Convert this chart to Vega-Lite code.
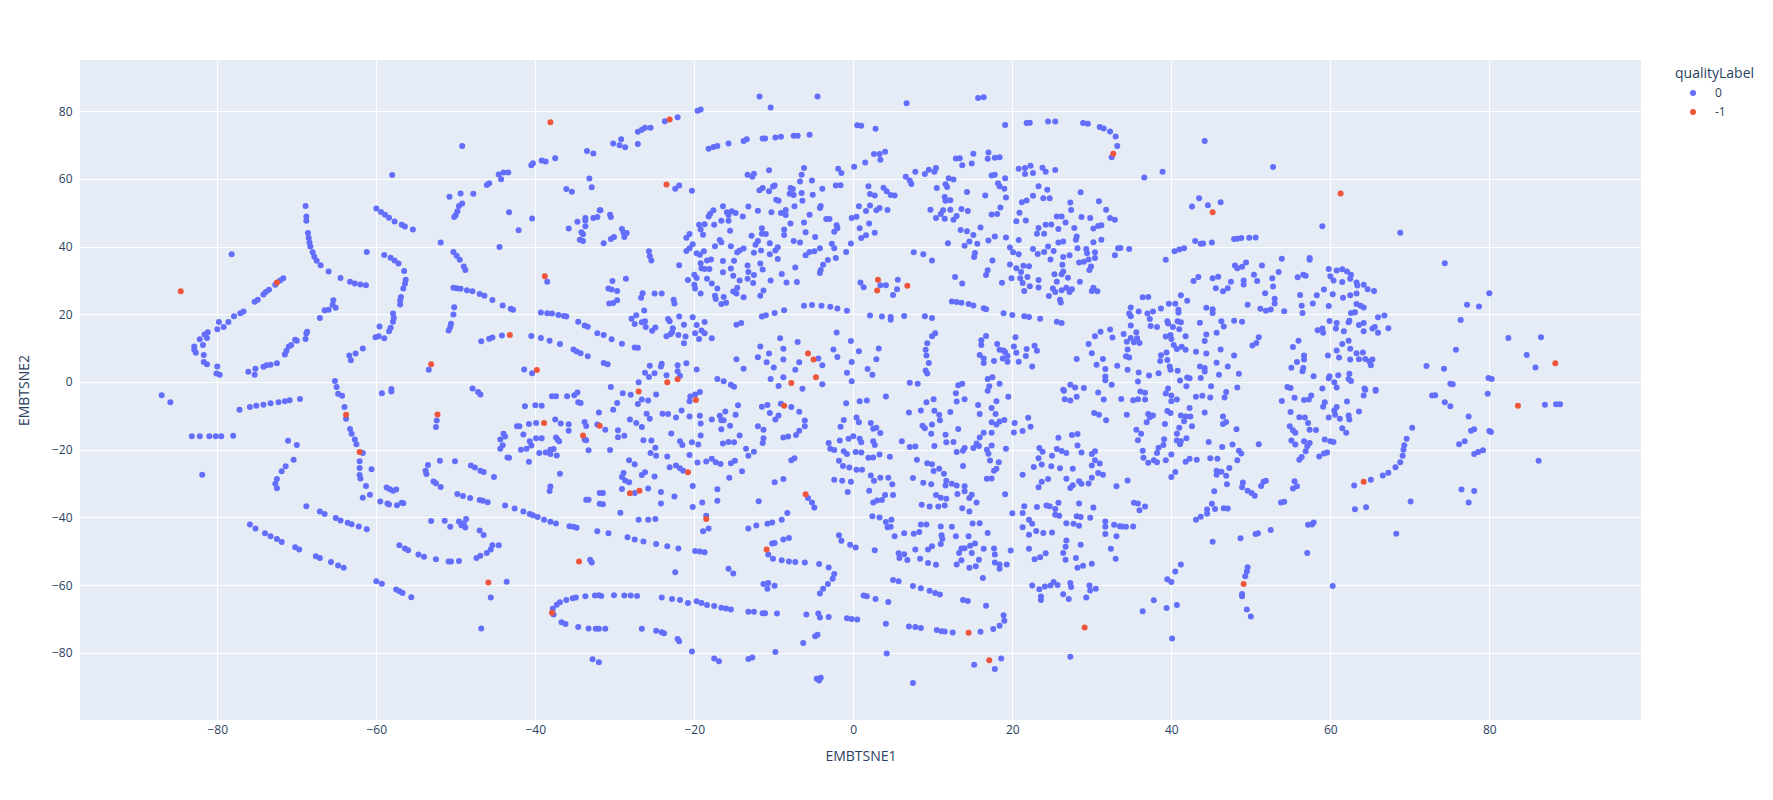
{"$schema":"https://vega.github.io/schema/vega-lite/v6.json","width":1561,"height":660,"autosize":{"type":"none"},"padding":{"left":80,"top":60,"right":132,"bottom":80},"background":"white","config":{"view":{"fill":"#E5ECF6","stroke":null},"font":"Open Sans","axis":{"grid":true,"gridColor":"white","gridWidth":1,"domain":false,"ticks":false,"labelFont":"Open Sans","labelFontSize":12,"labelColor":"#2a3f5f","titleFont":"Open Sans","titleFontSize":14,"titleColor":"#2a3f5f","titleFontWeight":"normal"}},"encoding":{"x":{"field":"x","type":"quantitative","title":"EMBTSNE1","scale":{"domain":[-97.27,99.08],"nice":false,"zero":false},"axis":{"values":[-80,-60,-40,-20,0,20,40,60,80],"labelExpr":"replace(datum.label,'-','−')","labelPadding":4,"titlePadding":14}},"y":{"field":"y","type":"quantitative","title":"EMBTSNE2","scale":{"domain":[-99.85,95.1],"nice":false,"zero":false},"axis":{"values":[-80,-60,-40,-20,0,20,40,60,80],"labelExpr":"replace(datum.label,'-','−')","labelPadding":8,"titlePadding":20}}},"layer":[{"mark":{"type":"rule","color":"white","strokeWidth":2},"encoding":{"x":{"datum":0},"y":{"value":0},"y2":{"value":660}}},{"mark":{"type":"rule","color":"white","strokeWidth":2},"encoding":{"y":{"datum":0},"x":{"value":0},"x2":{"value":1561}}},{"data":{"values":[
{"x":-78.2,"y":37.7},{"x":-71.7,"y":30.6},{"x":-72.1,"y":30},{"x":-72.7,"y":28.7},{"x":-73.5,"y":27.2},{"x":-73.9,"y":26.6},{"x":-74.2,"y":25.8},{"x":-74.9,"y":24.3},{"x":-75.3,"y":23.7},{"x":-76.7,"y":20.8},{"x":-77.1,"y":20.3},{"x":-77.9,"y":19.4},{"x":-78.6,"y":17.7},{"x":-79.2,"y":16.2},{"x":-79.8,"y":17.7},{"x":-80,"y":15.6},{"x":-81.2,"y":14.7},{"x":-81.6,"y":14},{"x":-81.3,"y":13},{"x":-82.2,"y":12.6},{"x":-81.8,"y":10.9},{"x":-82.9,"y":10.5},{"x":-82.9,"y":9.5},{"x":-82.7,"y":8.6},{"x":-81.7,"y":8},{"x":-81.7,"y":5.9},{"x":-81.3,"y":5.2},{"x":-80,"y":4.6},{"x":-80.1,"y":2.5},{"x":-79.7,"y":2.1},
{"x":-76.1,"y":3},{"x":-75.2,"y":3.9},{"x":-75.3,"y":2.1},{"x":-74.2,"y":4.5},{"x":-73.8,"y":4.9},{"x":-73.3,"y":5.1},{"x":-72.5,"y":5.5},{"x":-71.5,"y":8.1},{"x":-71.3,"y":9.2},{"x":-71,"y":10.5},{"x":-70.7,"y":10.9},{"x":-70.2,"y":12.5},{"x":-70,"y":12.2},{"x":-68.9,"y":12.7},{"x":-68.8,"y":14.3},{"x":-68.7,"y":14.8},{"x":-67.1,"y":18.9},{"x":-66.5,"y":21.2},{"x":-66,"y":21.3},{"x":-65.5,"y":22.8},{"x":-65.4,"y":24.1},{"x":-65.1,"y":21.9},
{"x":-68.9,"y":52},{"x":-68.8,"y":48.9},{"x":-68.8,"y":47.6},{"x":-68.6,"y":44},{"x":-68.5,"y":42.5},{"x":-68.4,"y":41.2},{"x":-68.3,"y":40},{"x":-68,"y":38.3},{"x":-67.8,"y":37},{"x":-67.5,"y":35.8},{"x":-67,"y":34.5},{"x":-66,"y":32.6},{"x":-64.5,"y":30.7},{"x":-63.3,"y":29.6},{"x":-62.7,"y":29.1},{"x":-62,"y":28.8},{"x":-61.3,"y":28.6},
{"x":-65.2,"y":0.3},{"x":-65,"y":-1.5},{"x":-63.4,"y":7.8},{"x":-63.2,"y":6.4},{"x":-62.6,"y":8.4},{"x":-61.7,"y":9.9},{"x":-60.1,"y":13.2},{"x":-59.7,"y":13.5},{"x":-59,"y":12.9},{"x":-58.4,"y":15},{"x":-58.2,"y":16},{"x":-59.6,"y":16.4},{"x":-57.9,"y":17.8},{"x":-57.8,"y":18.9},{"x":-57.9,"y":20.2},{"x":-57,"y":22.9},{"x":-57,"y":24.1},{"x":-56.9,"y":25.1},{"x":-56.6,"y":27.6},{"x":-56.4,"y":29},{"x":-56.3,"y":30.2},{"x":-56.5,"y":32.8},{"x":-57.2,"y":35},{"x":-57.7,"y":35.9},{"x":-58.2,"y":36.7},{"x":-59,"y":37.5},{"x":-61.2,"y":38.4},
{"x":-60,"y":51.2},{"x":-59.4,"y":50.2},{"x":-58.9,"y":49.4},{"x":-58.4,"y":48.5},{"x":-57.7,"y":47.4},{"x":-56.8,"y":46.4},{"x":-56.4,"y":45.9},{"x":-55.4,"y":45},{"x":-58,"y":61.1},{"x":-51.9,"y":41.2},
{"x":-49.2,"y":69.7},{"x":-50.8,"y":54.7},{"x":-49.4,"y":55.7},{"x":-47.8,"y":55.6},{"x":-49.2,"y":52.7},{"x":-49.6,"y":52},{"x":-49.8,"y":50.4},{"x":-50,"y":49.3},{"x":-50.2,"y":48.7},
{"x":-46.1,"y":58.2},{"x":-45.8,"y":58.7},{"x":-44.6,"y":61.3},{"x":-44,"y":61.9},{"x":-43.4,"y":61.9},{"x":-44.3,"y":59.9},{"x":-40.5,"y":64},{"x":-40.3,"y":64.6},{"x":-39.2,"y":65.4},{"x":-38.7,"y":65.1},{"x":-37.5,"y":66.1},{"x":-43.3,"y":50.1},{"x":-40.4,"y":48.3},{"x":-42.1,"y":44.8},{"x":-44.5,"y":39.9},
{"x":-50.3,"y":38.4},{"x":-49.9,"y":37.3},{"x":-49.5,"y":36.1},{"x":-49,"y":34.1},{"x":-48.8,"y":33.1},{"x":-50.3,"y":27.8},{"x":-49.9,"y":27.7},{"x":-49.4,"y":27.5},{"x":-48.6,"y":27.1},{"x":-47.9,"y":26.8},{"x":-47,"y":26},{"x":-46.4,"y":25.5},{"x":-45.4,"y":24.2},{"x":-44.1,"y":22.6},{"x":-43.1,"y":21.6},{"x":-42.8,"y":21.3},{"x":-39.3,"y":20.5},{"x":-38.5,"y":20.3},{"x":-37.9,"y":20.2},{"x":-37.1,"y":19.8},{"x":-36.4,"y":19.5},{"x":-36.1,"y":19.3},{"x":-34.6,"y":17.8},{"x":-33.8,"y":16.7},{"x":-33.4,"y":16.3},{"x":-32.2,"y":14.4},
{"x":-50.2,"y":22.1},{"x":-50.3,"y":19.9},{"x":-50.6,"y":17.2},{"x":-50.7,"y":16.2},{"x":-50.9,"y":15.2},{"x":-46.8,"y":12},{"x":-45.8,"y":12.8},{"x":-45.4,"y":13.1},{"x":-44.2,"y":13.7},{"x":-40.5,"y":13.6},{"x":-39.3,"y":13},{"x":-38.2,"y":12.2},{"x":-36.9,"y":11.2},{"x":-35.2,"y":9.6},{"x":-34.8,"y":9},{"x":-34.3,"y":8.5},{"x":-33.4,"y":7.6},{"x":-41.4,"y":3.7},{"x":-40.4,"y":2.6},{"x":-53.4,"y":3.6},{"x":-47.9,"y":-1.9},{"x":-58.1,"y":-2.1},
{"x":-38.5,"y":29.6},{"x":-33.5,"y":68.2},{"x":-32.7,"y":67.5},{"x":-33.2,"y":60.1},{"x":-32.9,"y":57.5},{"x":-36.1,"y":57},{"x":-35.4,"y":56.2},{"x":-34.7,"y":47.3},{"x":-35.8,"y":45.3},{"x":-33.7,"y":48.4},{"x":-33.7,"y":47.7},{"x":-33.7,"y":46},{"x":-32.7,"y":48.4},{"x":-32.2,"y":48.7},{"x":-31.9,"y":50.7},{"x":-34.2,"y":44.2},{"x":-34,"y":43.6},{"x":-34.4,"y":42},{"x":-34,"y":41.6},
{"x":-87,"y":-3.9},{"x":-85.9,"y":-6},{"x":-77.2,"y":-8.2},{"x":-75.9,"y":-7.4},{"x":-75.1,"y":-7},{"x":-74.2,"y":-6.7},{"x":-73.3,"y":-6.3},{"x":-72.3,"y":-6},{"x":-71.5,"y":-5.7},{"x":-70.9,"y":-5.4},{"x":-69.6,"y":-5},
{"x":-83.2,"y":-16},{"x":-82.2,"y":-16},{"x":-81,"y":-16},{"x":-80.2,"y":-16},{"x":-79.5,"y":-16},{"x":-78,"y":-15.9},{"x":-81.9,"y":-27.4},
{"x":-64.8,"y":-3.5},{"x":-64.3,"y":-4.1},{"x":-64,"y":-7.4},{"x":-63.8,"y":-10.9},{"x":-63.3,"y":-13.9},{"x":-63.1,"y":-15.3},{"x":-62.7,"y":-17},{"x":-62.5,"y":-18.4},{"x":-61.7,"y":-21},{"x":-62.1,"y":-23.4},{"x":-62.1,"y":-25.4},{"x":-62.1,"y":-27.5},{"x":-62,"y":-28.5},{"x":-60.6,"y":-25.8},{"x":-61.3,"y":-30.7},{"x":-60.8,"y":-33.3},{"x":-61.7,"y":-34.2},
{"x":-59.3,"y":-3.3},{"x":-58.1,"y":-2.8},{"x":-47.2,"y":-3},{"x":-46.9,"y":-3.7},
{"x":-71.1,"y":-17.4},{"x":-70,"y":-18.6},{"x":-70.4,"y":-23},{"x":-71.4,"y":-24.9},{"x":-71.9,"y":-26.4},{"x":-72.5,"y":-28.7},{"x":-72.7,"y":-30.1},{"x":-72.5,"y":-31.4},
{"x":-68.8,"y":-36.7},{"x":-67.1,"y":-38.3},{"x":-66.5,"y":-39},{"x":-65.1,"y":-40.2},{"x":-64.5,"y":-40.9},{"x":-63.6,"y":-41.6},{"x":-63.1,"y":-42},{"x":-62.2,"y":-42.7},{"x":-61.2,"y":-43.5},
{"x":-75.9,"y":-42.1},{"x":-75.2,"y":-43.3},{"x":-74,"y":-44.7},{"x":-73.3,"y":-45.6},{"x":-72.5,"y":-46.4},{"x":-71.9,"y":-47.3},{"x":-70.2,"y":-48.8},{"x":-69.7,"y":-49.5},{"x":-67.6,"y":-51.5},{"x":-67.1,"y":-52},{"x":-65.7,"y":-53.2},{"x":-64.8,"y":-54.2},{"x":-64.1,"y":-54.9},
{"x":-60,"y":-58.9},{"x":-59.3,"y":-59.6},{"x":-57.5,"y":-61.3},{"x":-57.1,"y":-61.8},{"x":-56.7,"y":-62.3},{"x":-55.6,"y":-63.6},{"x":-45.6,"y":-63.7},{"x":-43.6,"y":-59},{"x":-46.8,"y":-72.8},
{"x":-58.7,"y":-31.2},{"x":-58.3,"y":-31.7},{"x":-57.9,"y":-32.1},{"x":-57.5,"y":-31.8},{"x":-59.5,"y":-35.3},{"x":-58.6,"y":-35.9},{"x":-58.4,"y":-36.2},{"x":-57.4,"y":-36.4},{"x":-56.8,"y":-35.7},{"x":-56.6,"y":-35.8},
{"x":-53.5,"y":-24.5},{"x":-53.8,"y":-26.2},{"x":-53.7,"y":-27.2},{"x":-52.8,"y":-29.4},{"x":-52.5,"y":-29.9},{"x":-51.9,"y":-31},{"x":-52,"y":-23.3},{"x":-50.1,"y":-23.4},{"x":-48.1,"y":-24.7},{"x":-47.6,"y":-25.3},{"x":-46.9,"y":-26.2},{"x":-46.5,"y":-26.6},{"x":-45.2,"y":-28.1},
{"x":-49.8,"y":-33.1},{"x":-49.1,"y":-33.7},{"x":-48.2,"y":-34.3},{"x":-47,"y":-34.9},{"x":-46.6,"y":-35.1},{"x":-46,"y":-35.5},{"x":-43.8,"y":-36.5},{"x":-42.6,"y":-37.4},{"x":-41.5,"y":-38.3},{"x":-40.7,"y":-39},{"x":-40.3,"y":-39.4},{"x":-39.7,"y":-39.9},{"x":-38.9,"y":-40.7},{"x":-38.1,"y":-41.3},{"x":-37.4,"y":-41.8},{"x":-35.7,"y":-42.6},{"x":-35.2,"y":-42.8},{"x":-34.8,"y":-43.1},{"x":-32.2,"y":-44.1},
{"x":-52.4,"y":-11.4},{"x":-52.5,"y":-13.3},
{"x":-53.1,"y":-41.1},{"x":-51.4,"y":-41},{"x":-50.7,"y":-42.8},{"x":-49.6,"y":-41.2},{"x":-48.7,"y":-40.5},{"x":-49,"y":-41.7},{"x":-49.3,"y":-42.3},{"x":-48.8,"y":-43},{"x":-47,"y":-43.9},{"x":-46.5,"y":-45.2},
{"x":-45.4,"y":-48.2},{"x":-44.6,"y":-48.2},{"x":-45.6,"y":-49.5},{"x":-46.1,"y":-50.5},{"x":-46.9,"y":-51.3},{"x":-47.4,"y":-52},{"x":-49.6,"y":-52.9},{"x":-50.6,"y":-53},{"x":-50.9,"y":-53},{"x":-52.5,"y":-52.4},{"x":-54,"y":-51.6},{"x":-54.7,"y":-51},{"x":-56,"y":-49.7},{"x":-56.4,"y":-49.2},{"x":-57.1,"y":-48.2},
{"x":-37.7,"y":-68.7},{"x":-37.8,"y":-67},{"x":-37.3,"y":-65.8},{"x":-36.9,"y":-65.1},{"x":-36.1,"y":-64.4},{"x":-35.3,"y":-63.9},{"x":-34.9,"y":-63.7},{"x":-33.7,"y":-63.3},{"x":-32.5,"y":-63.1},{"x":-32,"y":-63},{"x":-36.7,"y":-71},{"x":-36.2,"y":-71.5},{"x":-34.6,"y":-72.4},{"x":-33.3,"y":-72.8},{"x":-32.4,"y":-72.9},{"x":-32,"y":-72.9},{"x":-32.8,"y":-81.9},{"x":-32,"y":-82.8},
{"x":-37.9,"y":-4.2},{"x":-37.4,"y":-4.2},{"x":-36,"y":-4.2},{"x":-35.1,"y":-3.9},{"x":-34.7,"y":-3.1},{"x":-34.6,"y":-6},{"x":-34.3,"y":-6.2},{"x":-41.3,"y":-7.2},{"x":-40,"y":-6.9},{"x":-39.2,"y":-7},{"x":-37.5,"y":-11.1},{"x":-36.8,"y":-12.3},{"x":-35.8,"y":-12.5},{"x":-35.8,"y":-14.4},{"x":-33.8,"y":-11.8},{"x":-33.6,"y":-13},{"x":-32.2,"y":-12.6},{"x":-32,"y":-9},{"x":-40.8,"y":-12.4},{"x":-39.9,"y":-12.1},{"x":-42.3,"y":-13.1},{"x":-42,"y":-13.1},{"x":-44,"y":-15.3},{"x":-43.8,"y":-16.1},{"x":-44.4,"y":-17},{"x":-41.5,"y":-15.5},{"x":-39.9,"y":-16.6},{"x":-39.2,"y":-16.6},{"x":-37.4,"y":-16.4},{"x":-37.2,"y":-17},{"x":-37,"y":-17.5},{"x":-40.7,"y":-17.5},{"x":-40.5,"y":-18.8},{"x":-41.1,"y":-19.7},{"x":-41.8,"y":-20},{"x":-44.1,"y":-18.7},{"x":-44.4,"y":-19.7},{"x":-43.5,"y":-22.3},{"x":-43.3,"y":-22.4},{"x":-40.8,"y":-23.6},{"x":-39.5,"y":-21},{"x":-38.7,"y":-20.8},{"x":-38.1,"y":-20},{"x":-37.7,"y":-19.8},{"x":-38.1,"y":-21.3},{"x":-37.3,"y":-21.7},{"x":-33.8,"y":-17},{"x":-33.6,"y":-17.2},{"x":-33.3,"y":-20.2},{"x":-36.9,"y":-27.1},{"x":-38.1,"y":-30.9},{"x":-38.2,"y":-32.2},{"x":-33.6,"y":-34.8},{"x":-33.3,"y":-34.8},{"x":-31.9,"y":-32.8},{"x":-31.9,"y":-36},{"x":-33.1,"y":-52.5},{"x":-32.9,"y":-53.3},
{"x":-23.7,"y":77},{"x":-22.1,"y":78.2},{"x":-19.6,"y":80.1},{"x":-19.2,"y":80.5},{"x":-11.8,"y":84.3},{"x":-10.4,"y":81.1},{"x":-4.5,"y":84.3},{"x":6.7,"y":82.3},{"x":15.7,"y":83.9},{"x":16.4,"y":84.1},
{"x":-25.5,"y":75.1},{"x":-26.2,"y":75.1},{"x":-26.6,"y":74.5},{"x":-27.1,"y":73.9},{"x":-29.2,"y":71.7},{"x":-30.2,"y":70.4},{"x":-29.4,"y":69.9},{"x":-28.7,"y":69.3},{"x":-27.1,"y":70.3},
{"x":-18.2,"y":68.9},{"x":-17.6,"y":69.4},{"x":-17.1,"y":69.7},{"x":-15.7,"y":70.4},{"x":-13.8,"y":71.2},{"x":-13.4,"y":71.7},{"x":-11.4,"y":71.9},{"x":-11.1,"y":71.9},{"x":-9.8,"y":72.2},{"x":-9.1,"y":72.4},{"x":-7.5,"y":72.7},{"x":-7,"y":72.7},{"x":-5.5,"y":73},
{"x":0.5,"y":75.8},{"x":1,"y":75.7},{"x":2.8,"y":74.8},{"x":0.1,"y":63.6},{"x":1.5,"y":64.8},{"x":2.6,"y":67.3},{"x":3.3,"y":67.3},{"x":4,"y":68},{"x":3.4,"y":65.6},
{"x":19.1,"y":75.9},{"x":21.8,"y":76.5},{"x":22.2,"y":76.6},{"x":24.5,"y":76.9},{"x":25.4,"y":76.9},{"x":28.9,"y":76.5},{"x":29.5,"y":76.3},{"x":31,"y":75.3},{"x":31.5,"y":74.9},{"x":32.3,"y":74},{"x":33,"y":72.5},{"x":33.2,"y":69.7},{"x":32.5,"y":66.4},
{"x":-1.9,"y":63},{"x":-1.5,"y":61.7},{"x":-6.2,"y":63.2},{"x":-6.5,"y":61.2},{"x":-6.7,"y":59.2},{"x":-5.2,"y":59.5},{"x":-3.9,"y":57.1},{"x":-2.2,"y":58},{"x":-1.6,"y":58.1},{"x":-5.1,"y":55.3},{"x":-6.4,"y":53.5},{"x":-6.5,"y":55.8},{"x":-7.9,"y":57.3},{"x":-7.6,"y":57},{"x":-8,"y":55.6},{"x":-7.5,"y":55.2},{"x":-9.9,"y":58},{"x":-10.1,"y":57.7},{"x":-10.6,"y":56.3},{"x":-11.4,"y":57.3},{"x":-11.8,"y":56.6},{"x":-10.6,"y":62.5},{"x":-13.3,"y":61.2},{"x":-12.5,"y":61.5},{"x":-12.7,"y":60.6},{"x":-22.4,"y":57.1},{"x":-21.9,"y":58},{"x":-20.3,"y":56.5},
{"x":-9.7,"y":53.8},{"x":-9.4,"y":53.5},{"x":-13.2,"y":51.8},{"x":-12,"y":50.6},{"x":-10.3,"y":50.1},{"x":-9.1,"y":49.9},{"x":-8.5,"y":50.8},{"x":-8.5,"y":49.3},{"x":-7.4,"y":51.9},{"x":-5.5,"y":49.4},{"x":-4.1,"y":52},{"x":-4.2,"y":51.4},{"x":-6.2,"y":47.1},{"x":-7.9,"y":46.8},{"x":-3.4,"y":48.1},{"x":-3,"y":48.1},{"x":-2.1,"y":46.3},{"x":-2,"y":45.4},{"x":-2.4,"y":44.4},{"x":-6,"y":44.2},{"x":-4.8,"y":42.8},{"x":-8.7,"y":45},{"x":-8.7,"y":43.4},{"x":-11.5,"y":45.4},{"x":-11.5,"y":43.8},{"x":-11,"y":43.7},{"x":-12.8,"y":43.2},{"x":-15.5,"y":44.7},{"x":-17.5,"y":46.4},{"x":-16.6,"y":47.6},{"x":-15.7,"y":47.6},{"x":-16.4,"y":51.9},{"x":-17.6,"y":50.7},{"x":-18.2,"y":48.9},{"x":-18,"y":49.7},{"x":-15.9,"y":50.1},{"x":-15.3,"y":50.4},{"x":-14.8,"y":49.9},{"x":-15.7,"y":49.3},{"x":-13.9,"y":48.9},{"x":-19.4,"y":46.4},{"x":-18.7,"y":46.6},{"x":-19.2,"y":45},{"x":-18.9,"y":43.5},{"x":-20.6,"y":43.7},{"x":-21,"y":42.6},
{"x":-0.2,"y":48.4},{"x":0.4,"y":48.8},{"x":0.7,"y":51.9},{"x":1.6,"y":50.5},{"x":2.1,"y":52.1},{"x":3.3,"y":51.4},{"x":2.9,"y":50.7},{"x":4.3,"y":50.8},{"x":2,"y":46.8},{"x":0.8,"y":45.4},{"x":2.7,"y":44.1},{"x":1.6,"y":43.3},{"x":1,"y":42.5},{"x":-0.3,"y":40.9},{"x":1.9,"y":57.8},{"x":2.1,"y":55.5},{"x":2.7,"y":55.1},{"x":3.8,"y":57.4},{"x":4.2,"y":56.3},{"x":4.7,"y":55.2},{"x":5.2,"y":55.1},
{"x":-7.5,"y":41.6},{"x":-6.7,"y":41.2},{"x":-2.7,"y":40.8},{"x":-2.4,"y":39.5},{"x":-4.2,"y":39.5},{"x":-4.9,"y":38.6},{"x":-5.5,"y":38.4},{"x":-6,"y":37.4},{"x":-0.9,"y":38.4},{"x":-2.2,"y":36.6},{"x":-3.2,"y":36},{"x":-3.8,"y":34.6},{"x":-4.1,"y":33.1},{"x":-4.2,"y":32.2},{"x":-7.3,"y":33.8},{"x":-9,"y":31.9},{"x":-8.4,"y":29.4},{"x":-7.1,"y":29.5},{"x":-10.4,"y":30},
{"x":-9.5,"y":39.8},{"x":-9.8,"y":38.8},{"x":-10.5,"y":41},{"x":-10.5,"y":37.7},{"x":-9.5,"y":36.3},{"x":-11.6,"y":38.8},{"x":-12.5,"y":38.2},{"x":-12,"y":41.6},{"x":-12.3,"y":40.5},{"x":-13.8,"y":39.4},{"x":-14.3,"y":38.8},{"x":-14.6,"y":38.3},{"x":-15.4,"y":40.1},{"x":-16.8,"y":41.9},{"x":-16.6,"y":41.3},{"x":-17.4,"y":40.1},{"x":-20.2,"y":40.7},{"x":-20.6,"y":39.5},{"x":-21,"y":38.7},{"x":-19.7,"y":38},{"x":-19.3,"y":37.6},{"x":-18.8,"y":38.6},{"x":-17.9,"y":36.2},{"x":-18.4,"y":35.9},{"x":-16.4,"y":35.7},{"x":-15,"y":35.8},{"x":-19.2,"y":35.1},{"x":-19.1,"y":33.6},{"x":-18.7,"y":33.4},{"x":-18.1,"y":33.4},{"x":-21.9,"y":34.5},
{"x":-13.3,"y":34.4},{"x":-13.2,"y":32.5},{"x":-11.7,"y":35},{"x":-11.4,"y":33.2},{"x":-15.4,"y":33.5},{"x":-16.4,"y":32.4},{"x":-15.1,"y":31.4},{"x":-14.3,"y":30},{"x":-12.5,"y":31.6},{"x":-13.3,"y":30.5},{"x":-12.6,"y":29.2},{"x":-18.4,"y":30.5},{"x":-17.8,"y":29.1},{"x":-17.1,"y":27.6},{"x":-20,"y":31.7},{"x":-19.7,"y":30.7},{"x":-20.8,"y":30.1},{"x":-20,"y":28.7},{"x":-19.9,"y":27.6},{"x":-19.2,"y":26.1},{"x":-14.6,"y":27.8},{"x":-15.1,"y":26.7},{"x":-14.7,"y":26.1},{"x":-13.8,"y":25},{"x":-11.3,"y":27},{"x":-11.7,"y":25.5},{"x":-17.4,"y":25.5},{"x":-17.3,"y":24.5},{"x":-16.3,"y":25.1},{"x":-16,"y":23.4},{"x":-16.6,"y":23},
{"x":-25.7,"y":38.6},{"x":-25.6,"y":37.1},{"x":-25.4,"y":35.9},{"x":-30.3,"y":29.8},{"x":-28.6,"y":30.5},{"x":-30.8,"y":27.6},{"x":-30.4,"y":27.3},{"x":-29.7,"y":26.9},{"x":-26.5,"y":26.2},{"x":-26.7,"y":24.9},{"x":-25,"y":26.1},{"x":-24.1,"y":26.1},{"x":-22.6,"y":24.3},{"x":-22.5,"y":23.2},{"x":-30.7,"y":23.2},{"x":-30.2,"y":23.3},{"x":-29.7,"y":24.1},{"x":-26.3,"y":21.1},
{"x":-29.1,"y":45.2},{"x":-28.9,"y":44.1},{"x":-28.5,"y":44},{"x":-28.8,"y":42.8},{"x":-30.1,"y":42.8},{"x":-30.5,"y":42.2},{"x":-31.4,"y":41},{"x":-30.6,"y":49.4},{"x":-30.5,"y":48.7},{"x":-31.8,"y":50.7},
{"x":-6.2,"y":22.5},{"x":-5.2,"y":22.7},{"x":-4,"y":22.5},{"x":-2.9,"y":22.2},{"x":-2,"y":21.7},{"x":-0.8,"y":21},{"x":-8.7,"y":21.2},{"x":-9.9,"y":20.4},{"x":-11,"y":19.7},{"x":-11.5,"y":19.3},{"x":-14.1,"y":17.4},{"x":-14.7,"y":16.9},
{"x":2.1,"y":19.6},{"x":3.6,"y":19.3},{"x":4.7,"y":19.2},{"x":4.7,"y":18.4},{"x":6.4,"y":19.5},{"x":9,"y":19.4},{"x":9.9,"y":18.9},
{"x":12.4,"y":23.8},{"x":13,"y":23.6},{"x":13.6,"y":23.4},{"x":14.5,"y":23},{"x":15.1,"y":22.6},{"x":16.4,"y":21.8},{"x":16.7,"y":21.5},{"x":18.9,"y":20.3},{"x":20,"y":19.8},{"x":21.5,"y":19.4},{"x":22.1,"y":19.2},{"x":23.5,"y":18.7},{"x":25.6,"y":17.8},{"x":26.2,"y":17.4},
{"x":7.6,"y":38.3},{"x":8.8,"y":37.7},{"x":9.9,"y":35.9},{"x":11.9,"y":41},{"x":12.8,"y":31},{"x":13.7,"y":29.1},{"x":0.9,"y":29.4},{"x":1.3,"y":28},{"x":3.4,"y":28.6},{"x":4.1,"y":28.6},{"x":5.6,"y":30.2},{"x":5.5,"y":27.4},{"x":5,"y":25.7},
{"x":6.6,"y":60.6},{"x":7.1,"y":59.5},{"x":7.3,"y":58.5},{"x":7.8,"y":62.1},{"x":9,"y":61.4},{"x":9.5,"y":62.7},{"x":10.2,"y":62.1},{"x":10.4,"y":63.2},{"x":12.9,"y":66},{"x":13.4,"y":66.1},{"x":13.7,"y":64},{"x":14.9,"y":64.5},{"x":15.1,"y":67.4},{"x":17,"y":67.8},{"x":16.9,"y":65.9},{"x":17.8,"y":66.2},{"x":18.4,"y":66.4},{"x":12,"y":60.2},{"x":12.6,"y":59.8},{"x":11.6,"y":58.4},{"x":11.8,"y":57.6},{"x":10.5,"y":57.3},{"x":14.3,"y":56.1},{"x":11.5,"y":54.6},{"x":11.6,"y":53.5},{"x":12.2,"y":53.7},{"x":16.6,"y":55.1},{"x":19.2,"y":54.5},{"x":17.4,"y":61},{"x":17.8,"y":61.2},{"x":19.1,"y":60.2},{"x":18.2,"y":58.7},{"x":18.4,"y":57.8},{"x":19,"y":57.1},
{"x":9.7,"y":50.9},{"x":11.3,"y":50.7},{"x":12.2,"y":50.9},{"x":13.6,"y":51.1},{"x":14.4,"y":50.5},{"x":11,"y":49.6},{"x":10.4,"y":48.4},{"x":11.5,"y":48.2},{"x":12.6,"y":47.9},{"x":13,"y":49},{"x":17.4,"y":49.5},{"x":18.1,"y":49.6},{"x":18.5,"y":51.5},{"x":16,"y":45.6},{"x":13.5,"y":44.9},{"x":14.3,"y":44.5},{"x":15.1,"y":43.4},{"x":17.8,"y":43},{"x":19.2,"y":42.7},{"x":17,"y":41.8},{"x":15.6,"y":40.8},{"x":14.6,"y":41.5},{"x":14,"y":40.2},{"x":15.3,"y":38.1},{"x":15.2,"y":36.9},{"x":17.5,"y":35.9},{"x":16.9,"y":33},{"x":16.7,"y":31.6},{"x":18.7,"y":29.3},{"x":19.7,"y":39.7},{"x":20.1,"y":38.3},{"x":20.8,"y":37.7},{"x":19.7,"y":34.7},{"x":20.5,"y":33.6},{"x":21.1,"y":32.5},{"x":21.4,"y":34.3},{"x":22.1,"y":34.2},{"x":21.9,"y":31},{"x":19.9,"y":30.6},{"x":21,"y":30.6},{"x":21.3,"y":29.2},{"x":22.2,"y":28.3},{"x":21.5,"y":26.9},{"x":23.3,"y":30.1},{"x":23.3,"y":27.9},{"x":20.8,"y":41.9},{"x":20.5,"y":47.5},{"x":21.7,"y":47.7},{"x":20.9,"y":50},
{"x":20.8,"y":63},{"x":21.6,"y":63.2},{"x":22.3,"y":63.9},{"x":21.6,"y":61.4},{"x":22.6,"y":61.7},{"x":23.8,"y":63.3},{"x":24.2,"y":62.1},{"x":25.4,"y":62.6},{"x":23.3,"y":57.8},{"x":24.4,"y":56.8},{"x":22.6,"y":55},{"x":23.9,"y":54.3},{"x":24.7,"y":54.3},{"x":21.2,"y":53.1},{"x":21.8,"y":53.6},{"x":27.3,"y":53},{"x":28.6,"y":56},{"x":30.9,"y":53.4},{"x":27.4,"y":50.8},{"x":31.8,"y":50.9},{"x":28.7,"y":48.7},{"x":29.8,"y":48.4},{"x":25.6,"y":48.9},{"x":26.2,"y":48.9},{"x":26.7,"y":47.1},{"x":24.2,"y":46.4},{"x":24.9,"y":46.5},{"x":23.3,"y":45.5},{"x":23.1,"y":43.8},{"x":24,"y":43.8},{"x":25.8,"y":45.2},{"x":27.8,"y":45.5},{"x":28.1,"y":43},{"x":28,"y":42},{"x":30.2,"y":45.3},{"x":30.8,"y":46.1},{"x":31.2,"y":46.3},{"x":32.3,"y":48.4},{"x":32.9,"y":47.9},{"x":31.2,"y":42},{"x":30.2,"y":41.3},{"x":25.8,"y":41.2},{"x":26.4,"y":41.5},{"x":24.5,"y":40},{"x":22.6,"y":39.3},{"x":23.2,"y":37.8},{"x":24,"y":38.4},{"x":25.2,"y":38.7},{"x":24.8,"y":36.2},{"x":26.4,"y":36.9},{"x":27.2,"y":37.4},{"x":28.2,"y":39.5},{"x":29.3,"y":39.3},{"x":29.4,"y":38},{"x":30.4,"y":38.3},{"x":30.4,"y":36.6},{"x":29.6,"y":36.2},{"x":28.4,"y":35.3},{"x":29,"y":35.5},{"x":33.3,"y":39.5},{"x":32.9,"y":37.4},{"x":26.3,"y":34.6},{"x":26.4,"y":32.6},{"x":25.3,"y":31.8},{"x":26.2,"y":31.8},{"x":27,"y":30.8},{"x":25.6,"y":29.6},{"x":29.9,"y":34.1},{"x":29.7,"y":33.1},{"x":28.5,"y":29.6},{"x":25.1,"y":27.6},{"x":25.4,"y":26.6},{"x":26.2,"y":27.1},{"x":26.8,"y":27.8},{"x":27.2,"y":26.6},{"x":27.5,"y":27.4},{"x":30.2,"y":27.8},{"x":30,"y":26.9},{"x":30.7,"y":26.8},{"x":24.6,"y":25.4},{"x":26,"y":24.3},{"x":26.1,"y":23.5},
{"x":-27.9,"y":18.7},{"x":-27.3,"y":19.7},{"x":-27.5,"y":17.1},{"x":-26.6,"y":17.6},{"x":-26.2,"y":17.9},{"x":-26.1,"y":16.2},{"x":-25.3,"y":15.1},{"x":-24.9,"y":16.1},{"x":-23.3,"y":18.6},{"x":-23.1,"y":17.9},{"x":-21.9,"y":19.3},{"x":-20.2,"y":19.1},{"x":-18.7,"y":17.7},{"x":-19.7,"y":16.8},{"x":-21.3,"y":16.9},{"x":-22.7,"y":15.9},{"x":-22.8,"y":14.7},{"x":-23.5,"y":13.5},{"x":-23,"y":14.1},{"x":-22,"y":13.9},{"x":-21.1,"y":13.4},{"x":-21.3,"y":11.4},{"x":-19.9,"y":14.4},{"x":-19.1,"y":15.2},{"x":-18.7,"y":14.4},{"x":-19.4,"y":12.7},{"x":-17.8,"y":12.9},{"x":-19.7,"y":3.7},{"x":-31.4,"y":13.9},{"x":-30.4,"y":12.6},{"x":-29.1,"y":11.3},{"x":-27.5,"y":10.2},{"x":-27.1,"y":10.1},{"x":-31.4,"y":5.6},{"x":-30.9,"y":5.2},
{"x":-25.6,"y":4.8},{"x":-24.1,"y":5.4},{"x":-24.2,"y":4.6},{"x":-22.1,"y":4.9},{"x":-21,"y":5.5},{"x":-26.2,"y":2.7},{"x":-25,"y":2.6},{"x":-25.7,"y":1.5},{"x":-23.5,"y":2},{"x":-22.1,"y":3.2},{"x":-21.8,"y":1.8},{"x":-27,"y":-0.1},{"x":-30.5,"y":-1.5},
{"x":-17.1,"y":0.9},{"x":-16.3,"y":0.2},{"x":-15.4,"y":-0.8},{"x":-15,"y":-1.4},
{"x":-14.7,"y":6.7},{"x":-13.8,"y":3.9},{"x":-12,"y":7.3},{"x":-11.7,"y":10.5},{"x":-10.6,"y":8.4},{"x":-10.9,"y":5.8},{"x":-10,"y":4.3},{"x":-9.2,"y":12.9},{"x":-8.8,"y":9.8},{"x":-8.8,"y":6.6},{"x":-7,"y":11.8},{"x":-6.8,"y":5.8},{"x":-7.3,"y":3.6},{"x":-8.8,"y":1.4},{"x":-10.4,"y":0.9},{"x":-9.4,"y":-1.2},{"x":-6.4,"y":-2},{"x":-4.4,"y":6.9},{"x":-3.9,"y":4.9},{"x":-3.9,"y":-0.7},{"x":-2.5,"y":9.6},{"x":-2,"y":7.4},{"x":-2.1,"y":14.6},{"x":-0.3,"y":12.1},{"x":0.7,"y":9.1},{"x":-0.2,"y":5.9},{"x":-0.8,"y":2.7},{"x":-0.2,"y":0.2},{"x":1.8,"y":3.8},{"x":2.4,"y":2.1},{"x":2.9,"y":6.7},{"x":3.2,"y":9.9},
{"x":10.3,"y":14.4},{"x":9.9,"y":13.5},{"x":9.3,"y":11.4},{"x":9.1,"y":9.5},{"x":9.2,"y":7.8},{"x":9.5,"y":5.6},{"x":9.1,"y":3.4},{"x":9.3,"y":2.5},{"x":7.1,"y":-0.2},{"x":8.1,"y":-0.5},{"x":13.2,"y":-1},{"x":13.7,"y":-0.5},
{"x":16.1,"y":12.3},{"x":16.1,"y":10.9},{"x":16.7,"y":13.6},{"x":15.9,"y":8},{"x":16.4,"y":6.9},{"x":16.4,"y":5.6},{"x":17.7,"y":6.2},{"x":18.1,"y":11.2},{"x":18.4,"y":9.5},{"x":18.9,"y":9.3},{"x":19.1,"y":8.8},{"x":19.4,"y":7.7},{"x":19.4,"y":6},{"x":18.8,"y":6.9},{"x":20.4,"y":13.2},{"x":20.2,"y":10.5},{"x":20.5,"y":8.6},{"x":20.8,"y":6},{"x":21.7,"y":7.7},{"x":21.8,"y":9.7},{"x":22.8,"y":10.7},{"x":23.1,"y":9.2},{"x":22.5,"y":4.6},{"x":16.9,"y":0.9},{"x":17.5,"y":1.4},{"x":18.4,"y":-0.5},{"x":17.1,"y":-1.3},{"x":28.1,"y":6.8},{"x":29.6,"y":11.2},{"x":30,"y":8.5},{"x":30.4,"y":13.5},{"x":31.1,"y":14.8},{"x":32.3,"y":15.5},{"x":32.6,"y":13.1},{"x":31.4,"y":6.8},{"x":30.6,"y":5.1},{"x":31.7,"y":3.8},{"x":31.7,"y":1.6},{"x":31.7,"y":0.5},{"x":33.2,"y":4.8},{"x":27.3,"y":-0.8},{"x":27.9,"y":-1.6},{"x":29,"y":-1.8},{"x":26.4,"y":-2.3},{"x":32.5,"y":-0.8},
{"x":-29,"y":-3.3},{"x":-28,"y":-3.8},{"x":-29.7,"y":-6.2},{"x":-30.2,"y":-8.2},{"x":-27.1,"y":-6.5},{"x":-26.6,"y":-5.2},{"x":-25.8,"y":-5.5},{"x":-24.8,"y":-3.7},{"x":-20.5,"y":-4.3},{"x":-19.9,"y":-3.7},{"x":-19.3,"y":-3},{"x":-20.6,"y":-5.7},{"x":-24,"y":-9.4},{"x":-23.3,"y":-9.5},{"x":-22.3,"y":-10.5},{"x":-21.6,"y":-8.4},{"x":-20.6,"y":-10.2},{"x":-19.3,"y":-10},{"x":-26,"y":-9.4},{"x":-25.6,"y":-10.9},{"x":-28.1,"y":-11.1},{"x":-27.3,"y":-12.1},{"x":-26.6,"y":-13.3},{"x":-29.6,"y":-14.3},{"x":-29.6,"y":-16.3},{"x":-28.8,"y":-15.9},{"x":-31.2,"y":-14.1},{"x":-22.9,"y":-15.2},{"x":-26.4,"y":-17.2},{"x":-25.4,"y":-17.3},{"x":-24.9,"y":-19.4},{"x":-25.5,"y":-21},{"x":-24.8,"y":-21.8},{"x":-23.4,"y":-22},{"x":-30.6,"y":-20.1},{"x":-21.8,"y":-17.5},{"x":-21.5,"y":-18.6},{"x":-20.3,"y":-17.8},{"x":-19.5,"y":-18.5},{"x":-20.6,"y":-21.6},{"x":-19.6,"y":-23.8},{"x":-19.2,"y":-12.3},{"x":-19.2,"y":-15.8},{"x":-17.8,"y":-11.1},{"x":-16.8,"y":-10},{"x":-16.6,"y":-11.3},{"x":-16.1,"y":-8.7},{"x":-16.3,"y":-11.3},{"x":-14.8,"y":-9.7},{"x":-14.5,"y":-6.9},{"x":-15.5,"y":-12.9},{"x":-16.6,"y":-14},{"x":-14.3,"y":-15.8},{"x":-16.4,"y":-18.2},{"x":-15.7,"y":-17.7},{"x":-15,"y":-17.8},
{"x":-13.5,"y":-19.7},{"x":-13.2,"y":-21.8},{"x":-12.5,"y":-20.6},{"x":-12,"y":-13.1},{"x":-11.3,"y":-14.1},{"x":-11.3,"y":-16.6},{"x":-11.4,"y":-18},{"x":-11.5,"y":-7.3},{"x":-10.8,"y":-6.8},{"x":-10.5,"y":-9.2},{"x":-9.8,"y":-11.1},{"x":-9.4,"y":-9.9},{"x":-9.1,"y":-6.4},{"x":-7.8,"y":-7.4},{"x":-6.8,"y":-8.8},{"x":-6.1,"y":-11.4},{"x":-6.1,"y":-13.1},{"x":-6.8,"y":-14.4},{"x":-7.2,"y":-15.7},{"x":-8.2,"y":-16.1},{"x":-8.8,"y":-16.4},
{"x":-7.4,"y":-22.5},{"x":-7.8,"y":-23.1},{"x":-9.9,"y":-29.6},{"x":-8.8,"y":-28.7},{"x":-17.8,"y":-22.7},{"x":-18.5,"y":-23.5},{"x":-17.3,"y":-23.7},{"x":-16.7,"y":-24.2},{"x":-15.4,"y":-24},{"x":-14.9,"y":-23.3},{"x":-14,"y":-26.4},{"x":-15.6,"y":-28.3},{"x":-20.2,"y":-30.7},{"x":-17.1,"y":-31.7},{"x":-17.1,"y":-35.1},{"x":-19,"y":-35.6},{"x":-20.2,"y":-36.9},{"x":-22.5,"y":-33.8},{"x":-24.2,"y":-35.9},{"x":-24.2,"y":-32.5},{"x":-25.8,"y":-31.5},{"x":-27.5,"y":-32.8},{"x":-29.1,"y":-31.6},{"x":-31.5,"y":-32.8},{"x":-31.5,"y":-36.1},{"x":-29.3,"y":-38.6},{"x":-27,"y":-40.7},{"x":-25.8,"y":-40.7},{"x":-24.9,"y":-40.5},{"x":-30.8,"y":-44.7},
{"x":-28.2,"y":-23.1},{"x":-27.5,"y":-24.3},{"x":-28.9,"y":-26.9},{"x":-29.1,"y":-28.1},{"x":-28.7,"y":-29.1},{"x":-28.2,"y":-29.6},{"x":-26.6,"y":-27.5},{"x":-26.2,"y":-26.7},{"x":-25,"y":-27.9},{"x":-23.1,"y":-25.2},{"x":-22.3,"y":-24.7},{"x":-21.8,"y":-25.5},{"x":-21.4,"y":-26.2},
{"x":-18.5,"y":-39.5},{"x":-18.2,"y":-43.3},{"x":-18.9,"y":-44.1},{"x":-11.9,"y":-35.2},{"x":-8.3,"y":-38.7},{"x":-9,"y":-40.7},{"x":-10.2,"y":-41.5},{"x":-10.8,"y":-41.9},{"x":-12.2,"y":-42.4},{"x":-13.2,"y":-43.3},{"x":-5.7,"y":-34.3},{"x":-5.2,"y":-35.6},{"x":-4.9,"y":-37.1},
{"x":-28.4,"y":-45.9},{"x":-27.5,"y":-46.5},{"x":-26.4,"y":-47.1},{"x":-24.8,"y":-47.9},{"x":-23.4,"y":-48.5},{"x":-22,"y":-49.2},{"x":-19.9,"y":-49.9},{"x":-19.3,"y":-50.1},{"x":-18.7,"y":-50.3},{"x":-15.7,"y":-55.2},{"x":-15.1,"y":-56.6},{"x":-22.4,"y":-56.2},
{"x":-10.2,"y":-47.7},{"x":-9.9,"y":-47.6},{"x":-8.8,"y":-46.5},{"x":-8.1,"y":-46.1},{"x":-10.7,"y":-51},{"x":-10.1,"y":-52.2},{"x":-9,"y":-52.7},{"x":-8.1,"y":-53},{"x":-7.3,"y":-53.2},{"x":-6.1,"y":-53.3},{"x":-4.3,"y":-53.8},{"x":-3.1,"y":-54.8},{"x":-2.4,"y":-56.7},{"x":-2.6,"y":-58.1},{"x":-3.2,"y":-59.7},{"x":-3.8,"y":-61.1},{"x":-4.2,"y":-62.5},
{"x":-11.3,"y":-59.7},{"x":-10.7,"y":-59.4},{"x":-9.9,"y":-60.2},{"x":-10.8,"y":-61.1},
{"x":-31.7,"y":-63.2},{"x":-30.1,"y":-63},{"x":-28.8,"y":-63.1},{"x":-28,"y":-63.1},{"x":-27.2,"y":-63.2},{"x":-24.1,"y":-63.7},{"x":-22.8,"y":-64.1},{"x":-21.8,"y":-64.4},{"x":-20.8,"y":-65.3},{"x":-19.7,"y":-64.8},{"x":-19.1,"y":-65.3},{"x":-18.4,"y":-65.9},{"x":-17.5,"y":-66.2},{"x":-16.6,"y":-66.7},{"x":-16,"y":-66.9},{"x":-15.4,"y":-67.2},{"x":-13.2,"y":-67.9},{"x":-12.5,"y":-67.9},{"x":-11.4,"y":-68.3},{"x":-11.1,"y":-68.3},{"x":-9.6,"y":-68.4},{"x":-5.9,"y":-68.7},{"x":-4.4,"y":-68.4},{"x":-4.2,"y":-69.6},{"x":-3.1,"y":-69.4},{"x":-0.8,"y":-69.8},{"x":-0.2,"y":-70},{"x":0.5,"y":-70.2},{"x":4.1,"y":-71.4},{"x":7,"y":-72.2},{"x":7.8,"y":-72.4},{"x":8.5,"y":-72.7},{"x":10.5,"y":-73.3},{"x":11.1,"y":-73.6},{"x":11.5,"y":-73.7},{"x":12.5,"y":-74},{"x":16,"y":-73.8},{"x":17.6,"y":-73},{"x":18.4,"y":-72},{"x":19,"y":-70.5},{"x":18.9,"y":-68.9},{"x":16.7,"y":-66.1},
{"x":-31.2,"y":-72.9},{"x":-26.6,"y":-72.9},{"x":-24.8,"y":-73.5},{"x":-24.1,"y":-73.9},{"x":-23.8,"y":-74.2},{"x":-22.1,"y":-75.9},{"x":-21.9,"y":-76.6},{"x":-20.3,"y":-79.6},{"x":-17.5,"y":-81.7},{"x":-16.9,"y":-82.5},{"x":-13.2,"y":-81.8},{"x":-12.7,"y":-81.4},{"x":-9.8,"y":-79.8},{"x":-6.3,"y":-77.1},{"x":-4.8,"y":-75.1},{"x":-4.5,"y":-74.7},{"x":-4.6,"y":-87.7},{"x":-4.1,"y":-87.4},{"x":-4.3,"y":-88.2},{"x":4.2,"y":-80.2},{"x":7.5,"y":-88.9},{"x":15.2,"y":-83.5},{"x":17.8,"y":-84.8},{"x":18.6,"y":-81.7},{"x":27.3,"y":-81.2},
{"x":1.3,"y":-63.1},{"x":1.7,"y":-63.3},{"x":2.8,"y":-64.1},{"x":4.4,"y":-65},{"x":5,"y":-58.5},{"x":5.7,"y":-58.9},{"x":7.5,"y":-60.3},{"x":8.5,"y":-60.9},{"x":9.6,"y":-61.7},{"x":10.3,"y":-62.3},{"x":10.9,"y":-62.8},{"x":13.8,"y":-64.4},{"x":14.4,"y":-64.7},
{"x":-1.8,"y":-45.3},{"x":-1.5,"y":-46.9},{"x":-0.4,"y":-48.1},{"x":0.3,"y":-48.9},{"x":2.7,"y":-49.7},
{"x":22.5,"y":-60.1},{"x":23.4,"y":-61.2},{"x":24.1,"y":-60.4},{"x":24.8,"y":-60.1},{"x":25.2,"y":-59.1},{"x":25.7,"y":-60},{"x":27.3,"y":-59.4},{"x":27.4,"y":-60.6},{"x":29.7,"y":-60.1},{"x":29.8,"y":-61.6},{"x":30.5,"y":-61.1},{"x":26.4,"y":-62.7},{"x":27.1,"y":-64.1},{"x":23.6,"y":-63.4},{"x":23.6,"y":-64.4},{"x":29.3,"y":-63.7},
{"x":-0.9,"y":-6.3},{"x":0.8,"y":-5.7},{"x":1.7,"y":-5.5},{"x":4.1,"y":-4.3},{"x":12.9,"y":-3.3},{"x":10.1,"y":-5.1},{"x":9.2,"y":-6},{"x":7,"y":-9},{"x":8.5,"y":-8.4},{"x":10.2,"y":-8.5},{"x":10.8,"y":-9.7},{"x":10.9,"y":-11.3},{"x":12.2,"y":-8.9},{"x":13,"y":-5.8},{"x":14,"y":-5.1},{"x":15.7,"y":-6.8},{"x":15.9,"y":-9.5},{"x":18,"y":-5.7},{"x":17.4,"y":-7.7},{"x":17.9,"y":-9.5},{"x":19.5,"y":-4.4},{"x":16.9,"y":-2.6},
{"x":0.4,"y":-10.5},{"x":-1.2,"y":-11.2},{"x":-1.6,"y":-13.2},{"x":0.7,"y":-11.9},{"x":2.2,"y":-12.1},{"x":2.5,"y":-13.8},{"x":2.9,"y":-13.5},{"x":3.4,"y":-15.1},{"x":-1.7,"y":-17.3},{"x":-0.6,"y":-16.8},{"x":0,"y":-16},{"x":0.8,"y":-16.8},{"x":1,"y":-17.8},{"x":2.5,"y":-17.5},{"x":2.7,"y":-18.6},{"x":6.1,"y":-17.5},{"x":7.1,"y":-19.2},{"x":7.8,"y":-19.1},{"x":10.2,"y":-18.9},{"x":8.7,"y":-12.9},{"x":9,"y":-13.7},{"x":9.9,"y":-12.6},{"x":9.8,"y":-15.3},{"x":11.6,"y":-15.6},{"x":13.2,"y":-13.9},{"x":11.7,"y":-17.8},{"x":12.6,"y":-17.7},{"x":13,"y":-20.7},{"x":14,"y":-19.5},{"x":13.8,"y":-20.3},{"x":15.9,"y":-16.4},{"x":16.4,"y":-15},{"x":17.4,"y":-15},{"x":17.4,"y":-18.8},{"x":15.5,"y":-18.2},{"x":15.1,"y":-19.5},{"x":15.8,"y":-18.9},{"x":16.8,"y":-20},{"x":17,"y":-21.2},{"x":19.2,"y":-19.7},{"x":17.4,"y":-11.9},{"x":18,"y":-12.6},{"x":19,"y":-11.2},{"x":18.4,"y":-11.7},{"x":17.2,"y":-23.2},{"x":18.3,"y":-23.7},{"x":18,"y":-25.6},{"x":17.7,"y":-26.2},{"x":13.8,"y":-24.8},{"x":16.8,"y":-28.6},{"x":17.4,"y":-28.5},{"x":19.1,"y":-33.2},
{"x":-3.1,"y":-18},{"x":-2.9,"y":-19.7},{"x":-2.4,"y":-20.1},{"x":-1.2,"y":-20.5},{"x":-0.8,"y":-21.3},{"x":0.3,"y":-20.7},{"x":1,"y":-20.8},{"x":1.9,"y":-22.4},{"x":2.5,"y":-22.3},{"x":3.3,"y":-21.4},{"x":4.6,"y":-22.1},{"x":-1.8,"y":-23.3},{"x":-1.3,"y":-24.8},{"x":-0.5,"y":-25.3},{"x":0.4,"y":-25.9},{"x":1.1,"y":-25.9},{"x":2.2,"y":-27.6},{"x":2.6,"y":-29.2},{"x":3.4,"y":-28.3},{"x":4.4,"y":-28.3},{"x":4.9,"y":-30.2},{"x":-2.4,"y":-28.9},{"x":-1.4,"y":-29.2},{"x":-0.3,"y":-29.5},{"x":-0.7,"y":-32.5},{"x":2,"y":-32.1},{"x":4,"y":-33.4},{"x":5,"y":-33.4},{"x":3.6,"y":-34.9},{"x":3,"y":-35},{"x":2.5,"y":-35.6},
{"x":8,"y":-23},{"x":9.3,"y":-24},{"x":9.9,"y":-24.3},{"x":10.8,"y":-25.6},{"x":10.1,"y":-26.3},{"x":11.4,"y":-27.1},{"x":7.5,"y":-28.4},{"x":8.8,"y":-29.8},{"x":9.8,"y":-30.2},{"x":11.7,"y":-29.2},{"x":11.6,"y":-30.6},{"x":12.4,"y":-30.1},{"x":13,"y":-30.6},{"x":14,"y":-30.8},{"x":14,"y":-32.3},{"x":13.1,"y":-33.1},{"x":14.6,"y":-34.3},{"x":14.9,"y":-33.3},{"x":15.5,"y":-35.6},{"x":10.4,"y":-33.4},{"x":11,"y":-34.2},{"x":11.7,"y":-34.5},{"x":8.6,"y":-36.3},{"x":9.6,"y":-36.8},{"x":10.7,"y":-36.8},{"x":11.5,"y":-36.5},{"x":13.7,"y":-37.3},{"x":14.6,"y":-38.3},
{"x":2.4,"y":-39.7},{"x":3.3,"y":-40},{"x":4.1,"y":-41.4},{"x":4.8,"y":-40.7},{"x":4.3,"y":-42.9},{"x":4.7,"y":-42.8},{"x":5.2,"y":-45.6},{"x":6.4,"y":-44.7},{"x":7.6,"y":-44.8},{"x":8.3,"y":-44.3},{"x":8.5,"y":-42.1},{"x":9.2,"y":-42.1},{"x":11,"y":-42.7},{"x":12.4,"y":-42.8},{"x":11.1,"y":-45.3},{"x":11.2,"y":-46.3},{"x":12.9,"y":-45.6},{"x":14.5,"y":-45.6},{"x":15,"y":-41.8},{"x":15.9,"y":-41.7},{"x":16.9,"y":-44.6},{"x":11,"y":-47.9},{"x":9.9,"y":-48.5},{"x":9.4,"y":-49.5},{"x":7.8,"y":-49.5},{"x":5.7,"y":-50.6},{"x":6.4,"y":-50.9},{"x":5.8,"y":-52},{"x":6.8,"y":-52.6},{"x":8.4,"y":-52.2},{"x":9.4,"y":-53.5},{"x":10.4,"y":-54},{"x":13,"y":-53.9},{"x":13.6,"y":-52.7},{"x":13.3,"y":-50.5},{"x":13.6,"y":-49.2},{"x":14,"y":-49.1},{"x":14.9,"y":-50.5},{"x":14.7,"y":-48.4},{"x":15.3,"y":-47.7},{"x":16.4,"y":-49.3},{"x":17.7,"y":-49.2},{"x":17.8,"y":-51},{"x":19.8,"y":-49.8},{"x":15.8,"y":-52.5},{"x":15.4,"y":-54.4},{"x":14.6,"y":-54.9},{"x":17.8,"y":-53.3},{"x":18.4,"y":-55.2},{"x":18.4,"y":-53.9},{"x":19.3,"y":-53.9},{"x":16.3,"y":-57.9},
{"x":20,"y":-38.8},{"x":21.3,"y":-38.7},{"x":21.5,"y":-36.7},{"x":23.1,"y":-36.9},{"x":24.3,"y":-36.5},{"x":24.7,"y":-36.7},{"x":25.8,"y":-35.7},{"x":25.4,"y":-39.2},{"x":25.9,"y":-39.5},{"x":25.4,"y":-37.5},{"x":28.4,"y":-35.9},{"x":30.2,"y":-37.1},{"x":28.1,"y":-39.7},{"x":28.6,"y":-39.9},{"x":29.8,"y":-40.1},{"x":26.8,"y":-41.7},{"x":27.7,"y":-41.9},{"x":28.4,"y":-42.5},{"x":22.1,"y":-40.7},{"x":22.5,"y":-41.9},{"x":21.3,"y":-42.9},{"x":22.1,"y":-45.1},{"x":23,"y":-44},{"x":23.9,"y":-44.6},{"x":25,"y":-44.5},{"x":26.8,"y":-46.8},{"x":26.7,"y":-48.7},{"x":26.4,"y":-50.5},{"x":28.6,"y":-48.1},{"x":22.1,"y":-49.3},{"x":24.2,"y":-50.6},{"x":23.5,"y":-51.8},{"x":22.8,"y":-52.4},{"x":26.7,"y":-52.5},{"x":28,"y":-52},{"x":28.2,"y":-54.9},{"x":28.9,"y":-54.3},{"x":30,"y":-53.7},{"x":31.7,"y":-41.2},{"x":31.7,"y":-42.8},{"x":32.8,"y":-42.2},{"x":31.7,"y":-44.9},{"x":33.1,"y":-45.6},{"x":32.4,"y":-49.3},{"x":33,"y":-52.2},{"x":33.5,"y":-42.6},
{"x":27.5,"y":-15.7},{"x":28.2,"y":-15.4},{"x":25.8,"y":-16.5},{"x":28.2,"y":-18.8},{"x":28.7,"y":-20.8},{"x":25.6,"y":-19.8},{"x":26.2,"y":-20.4},{"x":26.8,"y":-21},{"x":23.4,"y":-19.5},{"x":23.8,"y":-20.6},{"x":25,"y":-21.8},{"x":23.3,"y":-22.5},{"x":22.7,"y":-25.1},{"x":23.7,"y":-24.4},{"x":24.9,"y":-24.9},{"x":26,"y":-25.5},{"x":27.6,"y":-25.6},{"x":21.3,"y":-27.4},{"x":24.5,"y":-28.7},{"x":23.7,"y":-29.5},{"x":23.3,"y":-31.1},{"x":26.8,"y":-28.6},{"x":27.3,"y":-31.3},{"x":27.6,"y":-30.5},{"x":28.4,"y":-29.3},{"x":28.7,"y":-30.1},{"x":29.6,"y":-30},{"x":30,"y":-28.3},{"x":30.4,"y":-20.5},{"x":30,"y":-21.3},{"x":30.4,"y":-23.1},{"x":31,"y":-24.1},{"x":30,"y":-24.7},{"x":30.8,"y":-26.9},{"x":31.4,"y":-27.4},{"x":33.1,"y":-30.8},
{"x":20.3,"y":-12.1},{"x":20.2,"y":-14.9},{"x":21.3,"y":-14.5},{"x":22,"y":-10.6},{"x":22.3,"y":-13.2},{"x":26.6,"y":-5.1},{"x":27.3,"y":-5.5},{"x":28.1,"y":-4.4},{"x":26.5,"y":-2.6},{"x":30.3,"y":-9.2},{"x":30.9,"y":-9.7},{"x":31.8,"y":-11.3},{"x":31.5,"y":-5.2},{"x":30.8,"y":-3.1},
{"x":44.2,"y":71.2},{"x":36.6,"y":60.4},{"x":38.9,"y":62.1},{"x":52.8,"y":63.5},{"x":43.5,"y":54.3},{"x":42.6,"y":51.8},{"x":44.6,"y":52.2},{"x":46.2,"y":53.1},{"x":59,"y":46},{"x":68.8,"y":44.1},{"x":74.4,"y":35.1},{"x":80,"y":26.2},{"x":77.2,"y":22.8},{"x":78.7,"y":22.3},{"x":76.4,"y":18.3},{"x":82.4,"y":13},{"x":86.5,"y":13.2},{"x":84.7,"y":8},{"x":85.8,"y":4.3},{"x":72.1,"y":4.7},{"x":74.3,"y":3.9},{"x":75.8,"y":9.5},{"x":79.9,"y":1.2},{"x":80.3,"y":0.9},{"x":75.1,"y":-0.5},{"x":75.4,"y":-0.7},
{"x":34.7,"y":39.3},{"x":33.6,"y":39.6},{"x":39.3,"y":36.1},{"x":40.4,"y":38.6},{"x":41,"y":39.1},{"x":41.6,"y":39.5},{"x":43,"y":41.6},{"x":43.7,"y":40.8},{"x":44,"y":40.9},{"x":45.1,"y":41.2},{"x":47.9,"y":42.2},{"x":48.3,"y":42.3},{"x":48.8,"y":42.5},{"x":49.8,"y":42.6},{"x":50.6,"y":42.7},{"x":48,"y":34.4},{"x":48.3,"y":33.6},{"x":48.9,"y":34},{"x":49.4,"y":35.3},{"x":51.4,"y":34.4},{"x":53.9,"y":36.4},{"x":57.4,"y":36.1},{"x":57.4,"y":36.6},{"x":53.5,"y":32.5},{"x":55.9,"y":30.9},{"x":56.6,"y":31.7},{"x":56.9,"y":31.4},{"x":50.4,"y":31.7},{"x":52.7,"y":30.6},{"x":45.9,"y":31.1},{"x":45.2,"y":30.6},{"x":43.4,"y":31},{"x":42.8,"y":29.8},{"x":47.5,"y":29.6},{"x":49.1,"y":30},{"x":49.1,"y":28.8},{"x":50.8,"y":29.8},{"x":52.8,"y":28.2},{"x":45.6,"y":27.7},{"x":47.1,"y":27.7},{"x":46.5,"y":26.8},{"x":51.8,"y":26.2},{"x":53,"y":24.6},{"x":53,"y":23.2},{"x":49.6,"y":22.8},{"x":51.2,"y":21.6},{"x":51.9,"y":21},{"x":52.5,"y":21.4},{"x":54.2,"y":20.9},{"x":56.4,"y":22.5},{"x":56.5,"y":20.4},{"x":56.2,"y":25.7},{"x":58.3,"y":25.6},{"x":57.8,"y":23.2},{"x":59.2,"y":27.3},{"x":59.8,"y":22.4},{"x":60.3,"y":25.9},{"x":61.6,"y":24.9},{"x":62.5,"y":25.6},{"x":63.3,"y":26.1},{"x":63.3,"y":23},{"x":63.8,"y":22.5},{"x":64.2,"y":22},{"x":63.1,"y":20.6},{"x":62.6,"y":20.4},{"x":66,"y":19.1},{"x":66.8,"y":19.6},{"x":59.8,"y":33.4},{"x":60.8,"y":32.9},{"x":61.5,"y":33.3},{"x":62.1,"y":32.6},{"x":62.6,"y":31.7},{"x":60,"y":31.2},{"x":60.4,"y":30},{"x":61.5,"y":29.5},{"x":62.5,"y":30.5},{"x":63.3,"y":29.4},{"x":63.4,"y":28.5},{"x":64.2,"y":28.7},{"x":64.7,"y":27.4},{"x":65.5,"y":26.9},
{"x":36.4,"y":25},{"x":37.1,"y":25.1},{"x":34.9,"y":22},{"x":35.9,"y":20.8},{"x":34.7,"y":20.2},{"x":34.9,"y":19.4},{"x":37,"y":20.2},{"x":37.7,"y":20.8},{"x":38.7,"y":21.7},{"x":39.7,"y":23.1},{"x":40.5,"y":23.1},{"x":41.2,"y":25.6},{"x":42,"y":24},{"x":40.9,"y":21.3},{"x":40.9,"y":20.5},{"x":44.4,"y":21.9},{"x":45.2,"y":21.5},{"x":45.2,"y":20.4},{"x":37.3,"y":18.6},{"x":37.4,"y":16.5},{"x":38.2,"y":16.2},{"x":34.9,"y":16.7},{"x":35.6,"y":14.7},{"x":34,"y":14.2},{"x":34.9,"y":13},{"x":35.7,"y":12.9},{"x":34.4,"y":11.9},{"x":35.3,"y":11.7},{"x":36,"y":11.5},{"x":39.5,"y":17.9},{"x":39.6,"y":17.3},{"x":40.2,"y":16.2},{"x":40.8,"y":17.9},{"x":41.2,"y":17.6},{"x":41,"y":15.6},{"x":43.6,"y":17.5},{"x":46.3,"y":17.9},{"x":47.9,"y":18.1},{"x":48.9,"y":17.8},{"x":46.6,"y":16.4},{"x":39.3,"y":13.4},{"x":39.9,"y":13.9},{"x":40,"y":12.7},{"x":41.8,"y":13.5},{"x":44.4,"y":14},{"x":45.7,"y":14.5},{"x":44.2,"y":12.1},{"x":40.3,"y":10.9},{"x":40.7,"y":9.7},{"x":41.3,"y":10.4},{"x":41.8,"y":9.5},{"x":43.1,"y":8.9},{"x":44.4,"y":8.4},{"x":46.2,"y":9.6},{"x":47.9,"y":7.8},{"x":38.7,"y":7.9},{"x":39.4,"y":8.7},{"x":38.6,"y":6.2},{"x":39.5,"y":6.5},{"x":39.8,"y":4.6},{"x":39.9,"y":3.6},{"x":40.8,"y":3.3},{"x":34.5,"y":9.6},{"x":34.3,"y":7.6},{"x":34.7,"y":7.2},{"x":34.5,"y":3.6},{"x":35.9,"y":2.8},{"x":37.2,"y":1.9},{"x":38.4,"y":2.6},{"x":35.8,"y":0.1},{"x":41.1,"y":0.4},{"x":42,"y":1.3},{"x":42.3,"y":1.1},{"x":43.7,"y":1.2},{"x":43.6,"y":4.6},{"x":44.2,"y":4.1},{"x":44.2,"y":3.1},{"x":45.7,"y":5.7},{"x":47.1,"y":4.6},{"x":46,"y":2.1},{"x":48.5,"y":2.4},{"x":45,"y":-1.3},{"x":41.9,"y":-1.3},{"x":39.6,"y":-1.9},{"x":48.3,"y":-1.6},
{"x":50.2,"y":10.8},{"x":50.7,"y":11.5},{"x":51,"y":13.2},{"x":55.3,"y":10.3},{"x":56,"y":12.2},{"x":56.7,"y":7.8},{"x":56.7,"y":6.6},{"x":55.8,"y":5.9},{"x":55.1,"y":4.2},{"x":56.6,"y":4.1},{"x":56.5,"y":3.2},{"x":57.9,"y":1.7},{"x":54.6,"y":-1.5},{"x":55,"y":-1.8},{"x":59,"y":-1.9},{"x":58.4,"y":15.3},{"x":59,"y":15.8},{"x":59.1,"y":14.5},{"x":59.9,"y":18},{"x":60.8,"y":17.4},{"x":60.7,"y":15.8},{"x":61.7,"y":15},{"x":62.3,"y":17.6},{"x":62.4,"y":18.1},{"x":63.6,"y":16.8},{"x":64.2,"y":17.4},{"x":65.3,"y":15.8},{"x":65.6,"y":16.2},{"x":64.2,"y":15},{"x":66,"y":14.5},{"x":67.3,"y":15.9},{"x":62.3,"y":12.2},{"x":61.5,"y":11.2},{"x":62.5,"y":9.8},{"x":60.8,"y":9.3},{"x":59.7,"y":7.8},{"x":61.1,"y":7.2},{"x":63.3,"y":8.5},{"x":64.1,"y":8.7},{"x":62.5,"y":6.6},{"x":63.6,"y":6.7},{"x":64.4,"y":6.8},{"x":64.9,"y":6.1},{"x":65.3,"y":6.6},{"x":65.1,"y":4.9},{"x":59.9,"y":1.7},{"x":59.8,"y":1.1},{"x":61,"y":2},{"x":62.4,"y":2.4},{"x":62.3,"y":0.9},{"x":62.6,"y":0.3},{"x":60.5,"y":-0.1},{"x":60.8,"y":-1.6},{"x":64.3,"y":-1.9},{"x":65.7,"y":-2.3},
{"x":33.7,"y":-5},{"x":35.2,"y":-5.4},{"x":35.8,"y":-5.1},{"x":36.7,"y":-5.2},{"x":36.1,"y":-2.8},{"x":36.7,"y":-3.2},{"x":39.3,"y":-3.4},{"x":40,"y":-4},{"x":40,"y":-5.7},{"x":40.7,"y":-5.2},{"x":43.1,"y":-4.4},{"x":43.9,"y":-4.1},{"x":44.9,"y":-4.6},{"x":46.7,"y":-4.6},{"x":46.9,"y":-3},
{"x":42.3,"y":-7.7},{"x":44.2,"y":-9},{"x":39.5,"y":-8.6},{"x":39.9,"y":-9.2},{"x":34.4,"y":-9.7},{"x":37.1,"y":-9.5},{"x":37.3,"y":-10.4},{"x":37.7,"y":-9.9},{"x":41.2,"y":-9.9},{"x":41.8,"y":-10.2},{"x":42.4,"y":-10.2},{"x":41.6,"y":-11.6},{"x":36.9,"y":-11.9},{"x":39.2,"y":-12.4},{"x":41,"y":-13.5},{"x":42.6,"y":-13.1},{"x":46.5,"y":-10.2},{"x":46.5,"y":-12.4},{"x":46.9,"y":-11.8},{"x":48.2,"y":-14},{"x":35.6,"y":-14.1},{"x":36.2,"y":-15.3},{"x":35.8,"y":-17.2},{"x":40.7,"y":-15.3},{"x":39.1,"y":-16.9},{"x":41.9,"y":-16.6},{"x":40.7,"y":-17.3},{"x":41.2,"y":-17.5},{"x":41.1,"y":-18.4},{"x":44.7,"y":-17.7},{"x":47.7,"y":-18.5},{"x":46.4,"y":-19.2},{"x":51,"y":-18.4},{"x":39,"y":-18.6},{"x":38.4,"y":-19.4},{"x":38.2,"y":-21},{"x":36.4,"y":-20.3},{"x":36.5,"y":-22.4},{"x":37.1,"y":-23.9},{"x":37.8,"y":-23.1},{"x":38.2,"y":-23.7},{"x":39.3,"y":-23.1},{"x":40,"y":-21.4},{"x":41.8,"y":-23.6},{"x":42.3,"y":-22.7},{"x":43.2,"y":-23},{"x":44.9,"y":-22.5},{"x":45.8,"y":-22.7},{"x":48.3,"y":-23.1},{"x":48.5,"y":-20.3},{"x":48.8,"y":-21.1},{"x":47.3,"y":-25.4},{"x":45.7,"y":-26.2},{"x":46.3,"y":-26.5},{"x":45.7,"y":-27.4},{"x":46.9,"y":-27.7},{"x":47,"y":-30.2},{"x":40.5,"y":-26.6},{"x":40,"y":-28.1},{"x":34.5,"y":-29.1},{"x":45.4,"y":-32.3},{"x":49,"y":-29.7},{"x":48.9,"y":-31.1},{"x":49.6,"y":-32.1},{"x":50.1,"y":-32.8},{"x":50.5,"y":-33.6},{"x":51.3,"y":-30.7},{"x":51.6,"y":-29.5},{"x":51.9,"y":-29.2},{"x":45.1,"y":-36},{"x":44.5,"y":-37.7},{"x":44.5,"y":-38.9},{"x":45.5,"y":-37.5},{"x":46.6,"y":-37.3},{"x":47.1,"y":-37.4},{"x":43.1,"y":-40.7},{"x":43.7,"y":-39.8},{"x":35.3,"y":-35.7},{"x":35.8,"y":-35.9},{"x":36,"y":-37.9},{"x":36.7,"y":-36.8},{"x":33.8,"y":-42.7},{"x":34.3,"y":-42.8},{"x":35.2,"y":-42.7},
{"x":45.2,"y":-47.2},{"x":48.7,"y":-46.2},{"x":50.6,"y":-44.9},{"x":50.9,"y":-44.7},{"x":52.5,"y":-43.7},{"x":49.6,"y":-54.7},{"x":49.5,"y":-56},{"x":49.3,"y":-57.4},{"x":48.9,"y":-62.6},{"x":48.9,"y":-63.3},{"x":49.5,"y":-67.2},{"x":50,"y":-69.3},
{"x":41.2,"y":-53.9},{"x":40.5,"y":-56},{"x":39.5,"y":-58.3},{"x":40,"y":-59.1},{"x":37.8,"y":-64.5},{"x":40.7,"y":-65.9},{"x":39.4,"y":-66.8},{"x":36.4,"y":-67.7},{"x":40.1,"y":-75.8},
{"x":53.9,"y":-5.6},{"x":55.5,"y":-4.7},{"x":56.7,"y":-5.3},{"x":57.3,"y":-5.2},{"x":57.6,"y":-4},{"x":59.3,"y":-6},{"x":59.1,"y":-7.3},{"x":60.5,"y":-8.4},{"x":60.8,"y":-7.4},{"x":62.1,"y":-5.8},{"x":64.2,"y":-4},{"x":64.4,"y":-2.3},{"x":65.7,"y":-2.6},{"x":55,"y":-8.9},{"x":56.1,"y":-10.4},{"x":56.8,"y":-10.5},{"x":57.2,"y":-12.1},{"x":59.8,"y":-10.5},{"x":60.6,"y":-9.7},{"x":61.2,"y":-10.9},{"x":62.3,"y":-9.9},{"x":62.4,"y":-11.1},{"x":63.6,"y":-8.7},{"x":54.9,"y":-13.1},{"x":55.3,"y":-14.3},{"x":55.6,"y":-15},{"x":57.4,"y":-14.1},{"x":58.2,"y":-14.2},{"x":61.5,"y":-13.7},{"x":62,"y":-15},{"x":55.1,"y":-17.3},{"x":55.6,"y":-18.5},{"x":56.7,"y":-17.5},{"x":57.4,"y":-18},{"x":57.1,"y":-19},{"x":59.3,"y":-17},{"x":60,"y":-17.5},{"x":60.4,"y":-17.7},{"x":56.9,"y":-20.5},{"x":59.6,"y":-20.8},{"x":59.2,"y":-21.1},{"x":58.6,"y":-22},{"x":56.1,"y":-23},{"x":56.4,"y":-22.2},{"x":55.5,"y":-29.3},{"x":55.8,"y":-30.8},{"x":55.3,"y":-31.5},{"x":54.2,"y":-35.4},{"x":53.8,"y":-35.6},{"x":57.7,"y":-42.1},{"x":57.2,"y":-42.2},{"x":57.9,"y":-41.5},{"x":57.1,"y":-50.5},{"x":60.3,"y":-60.3},
{"x":63,"y":-30.6},{"x":65.1,"y":-28.9},{"x":66.6,"y":-27.6},{"x":67.3,"y":-26.8},{"x":68.2,"y":-25.2},{"x":68.8,"y":-23.7},{"x":69.1,"y":-21.8},{"x":69.2,"y":-20},{"x":69.3,"y":-18.7},{"x":69.6,"y":-16.8},{"x":70.3,"y":-13.5},{"x":70.1,"y":-35.3},{"x":63.1,"y":-37.6},{"x":64.5,"y":-37},{"x":68.3,"y":-44.8},
{"x":72.8,"y":-4},{"x":73.2,"y":-3.9},{"x":74.4,"y":-6},{"x":75.1,"y":-7.2},{"x":79.8,"y":-3.5},{"x":77.4,"y":-10.2},{"x":77.7,"y":-14.4},{"x":78.1,"y":-14},{"x":80,"y":-14.5},{"x":80.2,"y":-14.8},{"x":76.2,"y":-18.4},{"x":76.9,"y":-17.5},{"x":78.1,"y":-21.3},{"x":78.6,"y":-20.7},{"x":79.2,"y":-20.2},{"x":86.2,"y":-23.3},{"x":87,"y":-6.7},{"x":88.4,"y":-6.6},{"x":88.9,"y":-6.6},{"x":76.5,"y":-31.8},{"x":78.1,"y":-32.2},{"x":77.4,"y":-35.6}
]},"mark":{"type":"point","filled":true,"opacity":1,"size":36},"encoding":{"color":{"datum":"0","type":"nominal","title":"qualityLabel","scale":{"domain":["0","-1"],"range":["#636efa","#EF553B"]},"legend":{"orient":"none","legendX":1595,"legendY":7,"titleFont":"Open Sans","titleFontSize":14,"titleFontWeight":"normal","titleColor":"#2a3f5f","labelFont":"Open Sans","labelFontSize":12,"labelColor":"#2a3f5f","symbolSize":36,"symbolOffset":12,"labelOffset":16,"rowPadding":7,"symbolType":"circle","titlePadding":6}}}},{"data":{"values":[
{"x":-84.6,"y":26.8},{"x":-72.5,"y":29.4},{"x":-38.1,"y":76.7},{"x":-38.8,"y":31.2},{"x":-43.2,"y":13.9},{"x":-53.1,"y":5.2},{"x":-39.8,"y":3.5},{"x":-63.8,"y":-9.7},{"x":-62.1,"y":-20.7},{"x":-52.3,"y":-9.6},{"x":-38.9,"y":-12.1},{"x":-34,"y":-15.8},{"x":-31.9,"y":-12.9},{"x":-45.9,"y":-59.2},{"x":-37.9,"y":-68.2},{"x":-34.5,"y":-53},{"x":-23.1,"y":77.5},{"x":-23.5,"y":58.3},{"x":-5.7,"y":8.4},{"x":-5,"y":6.6},{"x":-4.7,"y":1.4},{"x":-7.8,"y":-0.3},{"x":3.1,"y":30.2},{"x":3,"y":27},{"x":6.8,"y":28.4},{"x":32.7,"y":67.4},{"x":-23.4,"y":-0.1},{"x":-22.1,"y":0.8},{"x":-27,"y":-2.8},{"x":-19.8,"y":-5.3},{"x":-8.7,"y":-7},{"x":-20.8,"y":-26.7},{"x":-26.9,"y":-32.1},{"x":-28.1,"y":-32.9},{"x":-18.5,"y":-40.5},{"x":-6,"y":-33.2},{"x":-10.9,"y":-49.5},{"x":14.5,"y":-74.1},{"x":17.1,"y":-82.2},{"x":29.1,"y":-72.5},{"x":45.2,"y":50.1},{"x":61.3,"y":55.7},{"x":88.3,"y":5.5},{"x":83.6,"y":-7},{"x":64.2,"y":-29.5},{"x":49.1,"y":-59.7}
]},"mark":{"type":"point","filled":true,"opacity":1,"size":36},"encoding":{"color":{"datum":"-1","type":"nominal"}}}]}
